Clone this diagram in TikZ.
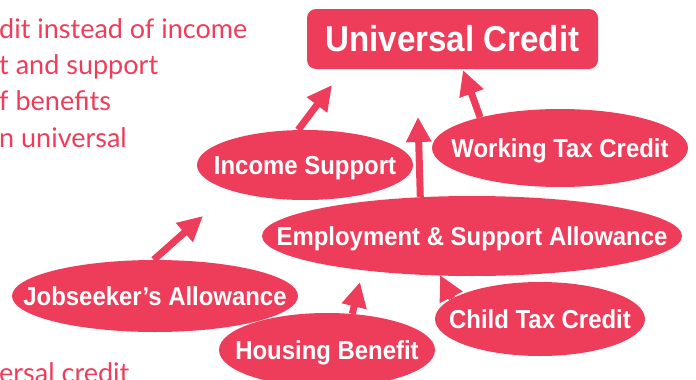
\documentclass[tikz,border=0pt]{standalone}
\usepackage{fontspec}
\setmainfont{Lato}
\newfontfamily\labelfont[FakeStretch=0.92]{Liberation Sans}
\usetikzlibrary{shapes.geometric,arrows.meta}
\definecolor{ucred}{RGB}{238,61,90}
% text that does not widen its ellipse, capitals centred
\newcommand\inbubble[1]{\makebox[0pt]{\raisebox{-0.36em}[0pt][0pt]{#1}}}

\begin{document}
\begin{tikzpicture}[x=1pt,y=-1pt,
	bubble/.style={
		ellipse,
		fill=ucred, text=white,
		inner sep=0pt,
		font=\labelfont\bfseries\fontsize{26}{30}\selectfont
	},
	feed/.style={
		ucred, line width=7pt,
		-{Triangle[length=25pt,width=24pt]}
	},
	body/.style={
		anchor=base west,
		inner sep=0pt, text=ucred,
		font=\fontsize{27}{32}\selectfont
	}
	]
	\useasboundingbox (0,0) rectangle (696,380);
	\clip (0,0) rectangle (696,380);
	
	% text running in from the left page
	\node[body] (line1) at (-1,38) {dit instead of income};
	\node[body] (line2) at (-1,74) {t and support};
	\node[body] (line3) at (-1,110) {f benefits};
	\node[body] (line4) at (-1,147) {n universal};
	\node[body] (line5) at (-1,382) {ersal credit};
	
	\node[fill=ucred, text=white, rounded corners=9pt,
		minimum width=291pt, minimum height=60pt, inner sep=0pt,
		font=\labelfont\bfseries\fontsize{36}{40}\selectfont]
		(uc) at (452.5,39) {Universal Credit};
	
	\node[bubble, minimum width=216pt, minimum height=70pt] 
		(is) at (305,165) {\inbubble{Income Support}};
	\node[bubble, minimum width=256pt, minimum height=78pt] 
		(wtc) at (560,148) {\inbubble{Working Tax Credit}};
	\node[bubble, minimum width=420pt, minimum height=80pt] 
		(esa) at (472,236) {\inbubble{Employment \& Support Allowance}};
	\node[bubble, minimum width=286pt, minimum height=72pt] 
		(jsa) at (155,296) {\inbubble{Jobseeker’s Allowance}};
	\node[bubble, minimum width=216pt, minimum height=74pt] 
		(hb) at (327,350) {\inbubble{Housing Benefit}};
	\node[bubble, minimum width=210pt, minimum height=74pt] 
		(ctc) at (540,319) {\inbubble{Child Tax Credit}};
	
	\coordinate (isTip) at (332,85);
	\coordinate (wtcTip) at (463,70);
	\coordinate (esaTip) at (418,117);
	\coordinate (jsaTip) at (203,216);
	\coordinate (hbTip) at (360,282);
	\coordinate (ctcTip) at (440,275);
	
	\draw[feed] (is.101) -- (isTip);
	\draw[feed] (wtc.159) -- (wtcTip);
	\draw[feed] (esa.143) -- (esaTip);
	\draw[feed] (jsa.92) -- (jsaTip);
	\draw[feed] (hb.55) -- (hbTip);
	\draw[feed] (ctc.167) -- (ctcTip);
\end{tikzpicture}
\end{document}
